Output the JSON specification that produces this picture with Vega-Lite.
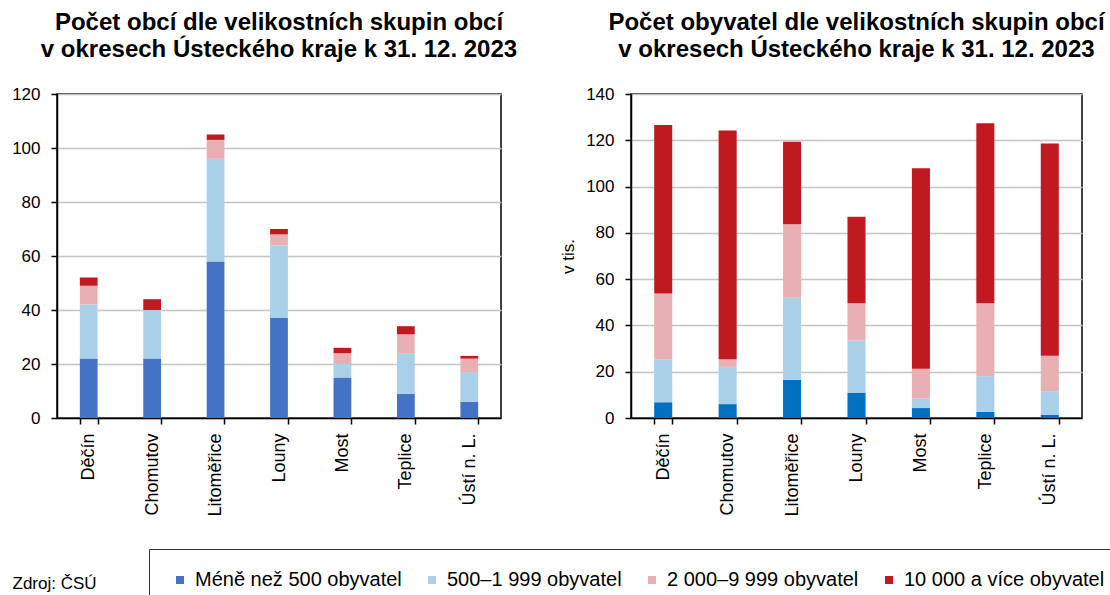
{
  "$schema": "https://vega.github.io/schema/vega-lite/v6.json",
  "background": "white",
  "padding": {"left": 10, "top": 10, "right": 0, "bottom": 0},
  "bounds": "flush",
  "spacing": 130,
  "config": {
    "font": "Liberation Sans",
    "view": {"stroke": "#000000", "strokeWidth": 1.5},
    "axis": {
      "domainColor": "#000000", "domainWidth": 1.5,
      "tickColor": "#000000", "tickWidth": 1.5, "tickSize": 6,
      "labelColor": "#000000", "labelFont": "Liberation Sans",
      "gridColor": "#C4C4C4", "gridWidth": 1.5,
      "titleColor": "#000000", "titleFont": "Liberation Sans", "titleFontWeight": "normal"
    },
    "title": {"fontSize": 24, "fontWeight": "bold", "color": "#000000", "lineHeight": 27, "offset": 23, "anchor": "middle", "font": "Liberation Sans"}
  },
  "datasets": {
    "obce": [
      {"okres": "Děčín", "skupina": "Méně než 500 obyvatel", "poradi": 1, "hodnota": 22},
      {"okres": "Děčín", "skupina": "500–1 999 obyvatel", "poradi": 2, "hodnota": 20},
      {"okres": "Děčín", "skupina": "2 000–9 999 obyvatel", "poradi": 3, "hodnota": 7},
      {"okres": "Děčín", "skupina": "10 000 a více obyvatel", "poradi": 4, "hodnota": 3},
      {"okres": "Chomutov", "skupina": "Méně než 500 obyvatel", "poradi": 1, "hodnota": 22},
      {"okres": "Chomutov", "skupina": "500–1 999 obyvatel", "poradi": 2, "hodnota": 18},
      {"okres": "Chomutov", "skupina": "2 000–9 999 obyvatel", "poradi": 3, "hodnota": 0},
      {"okres": "Chomutov", "skupina": "10 000 a více obyvatel", "poradi": 4, "hodnota": 4},
      {"okres": "Litoměřice", "skupina": "Méně než 500 obyvatel", "poradi": 1, "hodnota": 58},
      {"okres": "Litoměřice", "skupina": "500–1 999 obyvatel", "poradi": 2, "hodnota": 38},
      {"okres": "Litoměřice", "skupina": "2 000–9 999 obyvatel", "poradi": 3, "hodnota": 7},
      {"okres": "Litoměřice", "skupina": "10 000 a více obyvatel", "poradi": 4, "hodnota": 2},
      {"okres": "Louny", "skupina": "Méně než 500 obyvatel", "poradi": 1, "hodnota": 37},
      {"okres": "Louny", "skupina": "500–1 999 obyvatel", "poradi": 2, "hodnota": 27},
      {"okres": "Louny", "skupina": "2 000–9 999 obyvatel", "poradi": 3, "hodnota": 4},
      {"okres": "Louny", "skupina": "10 000 a více obyvatel", "poradi": 4, "hodnota": 2},
      {"okres": "Most", "skupina": "Méně než 500 obyvatel", "poradi": 1, "hodnota": 15},
      {"okres": "Most", "skupina": "500–1 999 obyvatel", "poradi": 2, "hodnota": 5},
      {"okres": "Most", "skupina": "2 000–9 999 obyvatel", "poradi": 3, "hodnota": 4},
      {"okres": "Most", "skupina": "10 000 a více obyvatel", "poradi": 4, "hodnota": 2},
      {"okres": "Teplice", "skupina": "Méně než 500 obyvatel", "poradi": 1, "hodnota": 9},
      {"okres": "Teplice", "skupina": "500–1 999 obyvatel", "poradi": 2, "hodnota": 15},
      {"okres": "Teplice", "skupina": "2 000–9 999 obyvatel", "poradi": 3, "hodnota": 7},
      {"okres": "Teplice", "skupina": "10 000 a více obyvatel", "poradi": 4, "hodnota": 3},
      {"okres": "Ústí n. L.", "skupina": "Méně než 500 obyvatel", "poradi": 1, "hodnota": 6},
      {"okres": "Ústí n. L.", "skupina": "500–1 999 obyvatel", "poradi": 2, "hodnota": 11},
      {"okres": "Ústí n. L.", "skupina": "2 000–9 999 obyvatel", "poradi": 3, "hodnota": 5},
      {"okres": "Ústí n. L.", "skupina": "10 000 a více obyvatel", "poradi": 4, "hodnota": 1}
    ],
    "obyvatele": [
      {"okres": "Děčín", "skupina": "Méně než 500 obyvatel", "poradi": 1, "hodnota": 6.8},
      {"okres": "Děčín", "skupina": "500–1 999 obyvatel", "poradi": 2, "hodnota": 18.5},
      {"okres": "Děčín", "skupina": "2 000–9 999 obyvatel", "poradi": 3, "hodnota": 28.5},
      {"okres": "Děčín", "skupina": "10 000 a více obyvatel", "poradi": 4, "hodnota": 72.8},
      {"okres": "Chomutov", "skupina": "Méně než 500 obyvatel", "poradi": 1, "hodnota": 6.0},
      {"okres": "Chomutov", "skupina": "500–1 999 obyvatel", "poradi": 2, "hodnota": 16.1},
      {"okres": "Chomutov", "skupina": "2 000–9 999 obyvatel", "poradi": 3, "hodnota": 3.3},
      {"okres": "Chomutov", "skupina": "10 000 a více obyvatel", "poradi": 4, "hodnota": 98.8},
      {"okres": "Litoměřice", "skupina": "Méně než 500 obyvatel", "poradi": 1, "hodnota": 16.5},
      {"okres": "Litoměřice", "skupina": "500–1 999 obyvatel", "poradi": 2, "hodnota": 35.5},
      {"okres": "Litoměřice", "skupina": "2 000–9 999 obyvatel", "poradi": 3, "hodnota": 31.7},
      {"okres": "Litoměřice", "skupina": "10 000 a více obyvatel", "poradi": 4, "hodnota": 35.7},
      {"okres": "Louny", "skupina": "Méně než 500 obyvatel", "poradi": 1, "hodnota": 10.8},
      {"okres": "Louny", "skupina": "500–1 999 obyvatel", "poradi": 2, "hodnota": 22.7},
      {"okres": "Louny", "skupina": "2 000–9 999 obyvatel", "poradi": 3, "hodnota": 16.1},
      {"okres": "Louny", "skupina": "10 000 a více obyvatel", "poradi": 4, "hodnota": 37.4},
      {"okres": "Most", "skupina": "Méně než 500 obyvatel", "poradi": 1, "hodnota": 4.3},
      {"okres": "Most", "skupina": "500–1 999 obyvatel", "poradi": 2, "hodnota": 4.2},
      {"okres": "Most", "skupina": "2 000–9 999 obyvatel", "poradi": 3, "hodnota": 12.8},
      {"okres": "Most", "skupina": "10 000 a více obyvatel", "poradi": 4, "hodnota": 86.6},
      {"okres": "Teplice", "skupina": "Méně než 500 obyvatel", "poradi": 1, "hodnota": 2.7},
      {"okres": "Teplice", "skupina": "500–1 999 obyvatel", "poradi": 2, "hodnota": 15.4},
      {"okres": "Teplice", "skupina": "2 000–9 999 obyvatel", "poradi": 3, "hodnota": 31.5},
      {"okres": "Teplice", "skupina": "10 000 a více obyvatel", "poradi": 4, "hodnota": 77.8},
      {"okres": "Ústí n. L.", "skupina": "Méně než 500 obyvatel", "poradi": 1, "hodnota": 1.3},
      {"okres": "Ústí n. L.", "skupina": "500–1 999 obyvatel", "poradi": 2, "hodnota": 10.3},
      {"okres": "Ústí n. L.", "skupina": "2 000–9 999 obyvatel", "poradi": 3, "hodnota": 15.3},
      {"okres": "Ústí n. L.", "skupina": "10 000 a více obyvatel", "poradi": 4, "hodnota": 91.7}
    ]
  },
  "hconcat": [
    {
      "width": 444,
      "height": 324,
      "title": {"text": ["Počet obcí dle velikostních skupin obcí", "v okresech Ústeckého kraje k 31. 12. 2023"]},
      "data": {"name": "obce"},
      "mark": {"type": "bar"},
      "encoding": {
        "x": {
          "field": "okres", "type": "nominal", "sort": null,
          "scale": {"paddingInner": 0.72, "paddingOuter": 0.36},
          "axis": {
            "labelAngle": 270, "labelFontSize": 18, "labelPadding": 9,
            "tickBand": "extent", "grid": false,
            "title": "Zdroj: ČSÚ", "titleFontSize": 17, "titleAnchor": "start",
            "titleAlign": "left", "titleBaseline": "alphabetic", "titleAngle": 0,
            "titleX": -45, "titleY": 170
          }
        },
        "y": {
          "field": "hodnota", "type": "quantitative", "stack": "zero",
          "scale": {"domain": [0, 120], "nice": false},
          "axis": {"values": [0, 20, 40, 60, 80, 100, 120], "title": null, "labelFontSize": 17, "labelPadding": 11, "grid": true}
        },
        "color": {
          "field": "skupina", "type": "nominal",
          "scale": {
            "domain": ["Méně než 500 obyvatel", "500–1 999 obyvatel", "2 000–9 999 obyvatel", "10 000 a více obyvatel"],
            "range": ["#4472C4", "#A9CFE9", "#E8B0B3", "#C0191F"]
          },
          "legend": {
            "title": null, "orient": "none", "legendX": 92, "legendY": 455,
            "direction": "horizontal", "strokeColor": "#333333",
            "fillColor": "#FFFFFF", "padding": 21,
            "symbolType": "square", "symbolSize": 64, "symbolStrokeWidth": 0,
            "labelFontSize": 20, "labelFont": "Liberation Sans", "labelColor": "#000000",
            "columnPadding": 20, "labelOffset": 5, "labelLimit": 400
          }
        },
        "order": {"field": "poradi", "type": "quantitative"}
      }
    },
    {
      "width": 451,
      "height": 324,
      "title": {"text": ["Počet obyvatel dle velikostních skupin obcí", "v okresech Ústeckého kraje k 31. 12. 2023"]},
      "data": {"name": "obyvatele"},
      "mark": {"type": "bar"},
      "encoding": {
        "x": {
          "field": "okres", "type": "nominal", "sort": null,
          "scale": {"paddingInner": 0.72, "paddingOuter": 0.36},
          "axis": {
            "labelAngle": 270, "labelFontSize": 18, "labelPadding": 9,
            "tickBand": "extent", "grid": false, "title": null
          }
        },
        "y": {
          "field": "hodnota", "type": "quantitative", "stack": "zero",
          "scale": {"domain": [0, 140], "nice": false},
          "axis": {"values": [0, 20, 40, 60, 80, 100, 120, 140], "title": "v tis.", "titleFontSize": 17, "titlePadding": 8, "labelFontSize": 17, "labelPadding": 11, "grid": true}
        },
        "color": {
          "field": "skupina", "type": "nominal",
          "scale": {
            "domain": ["Méně než 500 obyvatel", "500–1 999 obyvatel", "2 000–9 999 obyvatel", "10 000 a více obyvatel"],
            "range": ["#0070C0", "#A9CFE9", "#E8B0B3", "#C0191F"]
          },
          "legend": null
        },
        "order": {"field": "poradi", "type": "quantitative"}
      }
    }
  ],
  "resolve": {"scale": {"color": "independent"}, "legend": {"color": "independent"}}
}
